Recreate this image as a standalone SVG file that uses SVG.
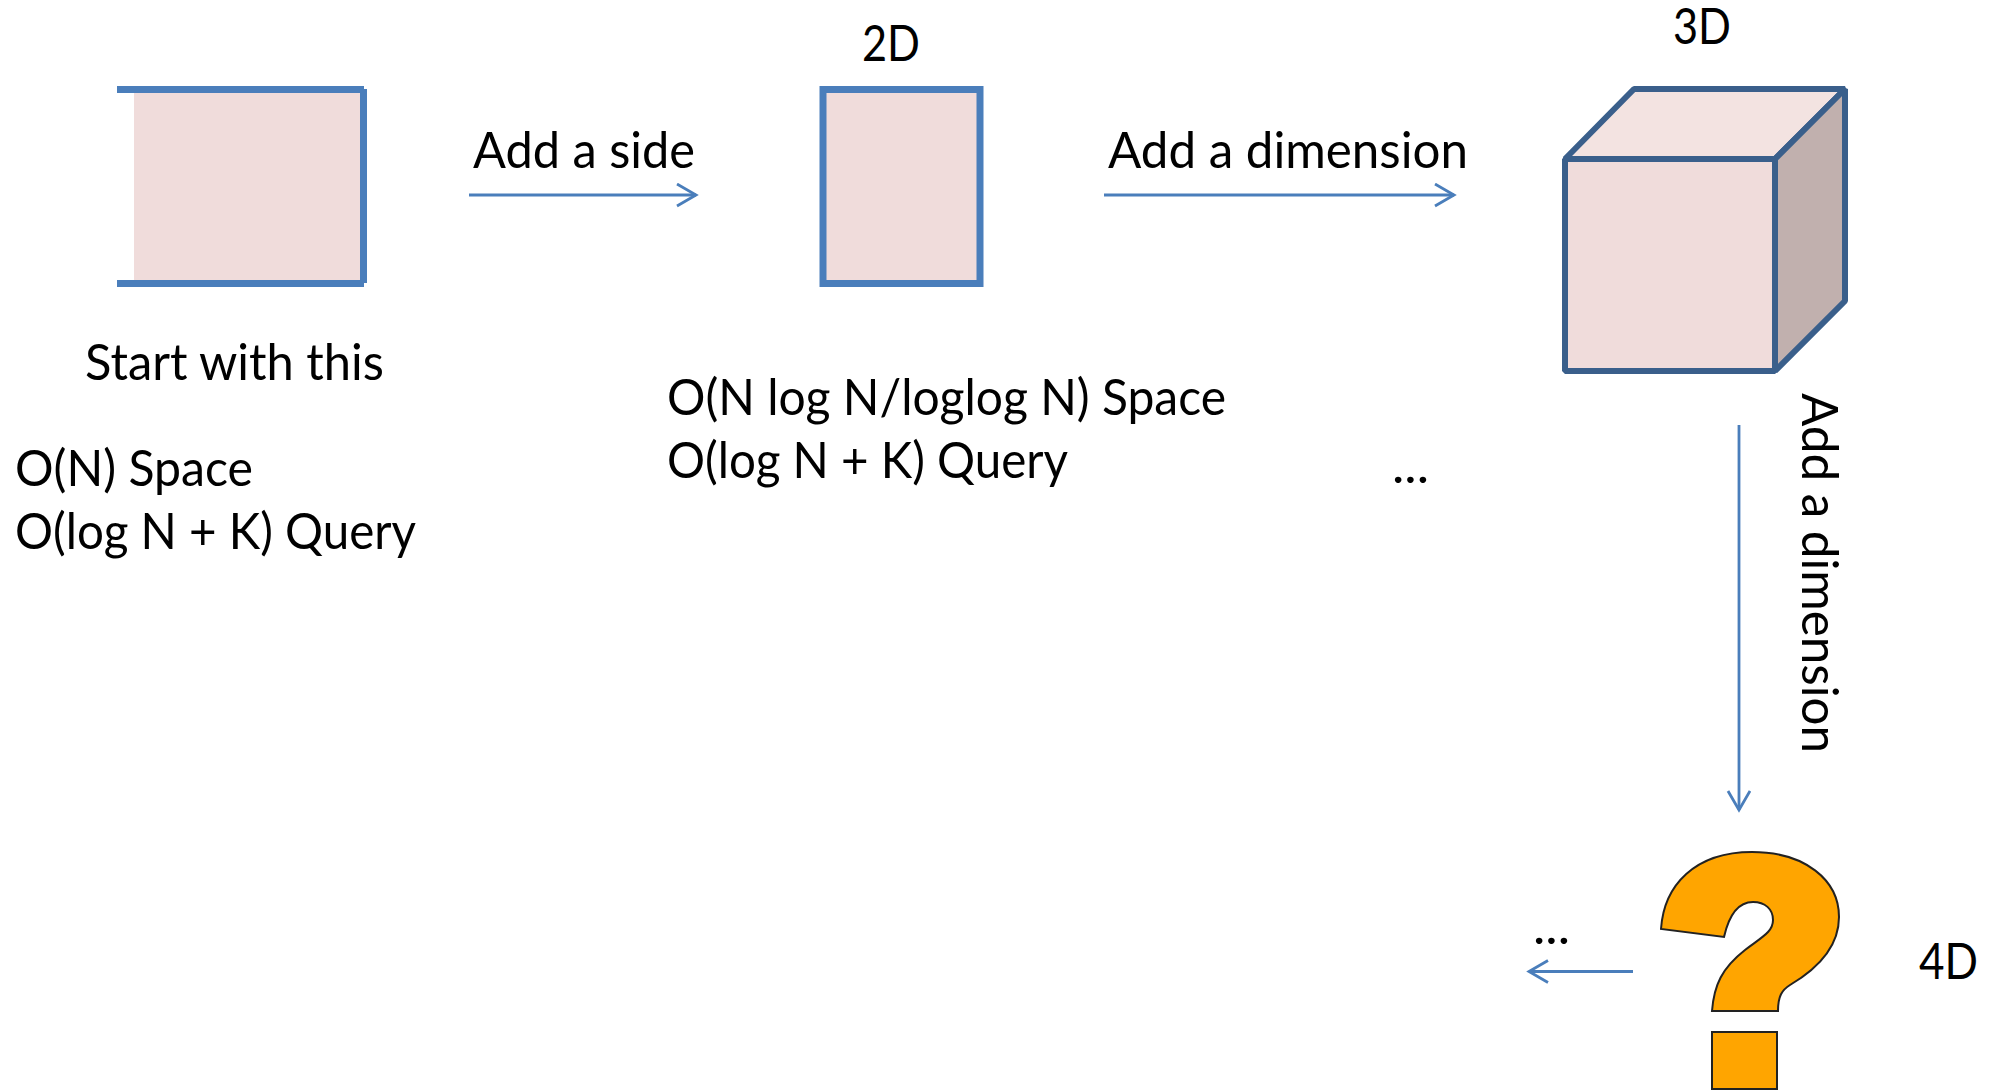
<svg xmlns="http://www.w3.org/2000/svg" width="1997" height="1090" viewBox="0 0 1997 1090">
  <style>
    text { font-family: "Lato", "Liberation Sans", sans-serif; font-size: 50px; fill: #000; }
    .side { stroke: #4a7ebb; stroke-width: 7; fill: none; }
    .face { fill: #f0dcdb; }
    .cube { stroke: #3a5f8b; stroke-width: 6; stroke-linejoin: bevel; }
    .link { stroke: #4a7ebb; stroke-width: 2.8; fill: none; marker-end: url(#open); }
    .mark { fill: #ffa500; stroke: #222; stroke-width: 2; }
  </style>
  <defs>
    <marker id="open" markerUnits="userSpaceOnUse" markerWidth="24" markerHeight="26" refX="20" refY="12" orient="auto">
      <path d="M1 1 L20 12 L1 23" fill="none" stroke="#4a7ebb" stroke-width="2.8"/>
    </marker>
  </defs>

  <rect width="1997" height="1090" fill="#fff"/>

  <g id="start-shape">
    <rect class="face" x="134" y="89" width="230" height="194"/>
    <path class="side" d="M117 89.500H364 M363.500 89V283 M117 283.500H364"/>
    <text x="85" y="380" textLength="299" lengthAdjust="spacingAndGlyphs">Start with this</text>
    <text x="15" y="486" textLength="238" lengthAdjust="spacingAndGlyphs">O(N) Space</text>
    <text x="15" y="549" textLength="401" lengthAdjust="spacingAndGlyphs">O(log N + K) Query</text>
  </g>

  <g id="square-2d">
    <rect class="face" x="823" y="89" width="157" height="194"/>
    <rect class="side" x="823" y="89.500" width="157" height="194"/>
    <text x="862" y="61" textLength="58" lengthAdjust="spacingAndGlyphs">2D</text>
    <text x="667" y="415" textLength="559" lengthAdjust="spacingAndGlyphs">O(N log N/loglog N) Space</text>
    <text x="667" y="478" textLength="401" lengthAdjust="spacingAndGlyphs">O(log N + K) Query</text>
  </g>

  <g id="cube-3d">
    <path class="cube" fill="#f3e3e1" d="M1565 159 L1634 89 H1845 L1775 159 Z"/>
    <path class="cube" fill="#c1b0ae" d="M1775 159 L1845 89 V301 L1775 371 Z"/>
    <rect class="cube face" x="1565" y="159" width="210" height="212"/>
    <text x="1673" y="44" textLength="58" lengthAdjust="spacingAndGlyphs">3D</text>
  </g>

  <g id="question-4d">
    <path class="mark" d="M1661 929 C1664 885 1695 852 1752 852 C1805 852 1839 880 1839 917 C1839 950 1812 972 1790 985 C1782 990 1778 996 1778 1011 H1712 C1714 985 1722 968 1745 950 C1762 937 1773 932 1773 920 C1773 909 1765 902 1753 902 C1738 902 1729 915 1724 937 Z"/>
    <rect class="mark" x="1712" y="1032" width="65" height="57"/>
    <text x="1919" y="979" textLength="59" lengthAdjust="spacingAndGlyphs">4D</text>
  </g>

  <g id="connectors">
    <path class="link" d="M469 195 H696"/>
    <path class="link" d="M1104 195 H1454"/>
    <path class="link" d="M1739 425 V810"/>
    <path class="link" d="M1633 971.500 H1529"/>
  </g>

  <g id="labels">
    <text x="473" y="168" textLength="222" lengthAdjust="spacingAndGlyphs">Add a side</text>
    <text x="1108" y="168" textLength="360" lengthAdjust="spacingAndGlyphs">Add a dimension</text>
    <text transform="translate(1802 393) rotate(90)" textLength="360" lengthAdjust="spacingAndGlyphs">Add a dimension</text>
    <text x="1392" y="483" textLength="37" lengthAdjust="spacingAndGlyphs">...</text>
    <text x="1533" y="944" textLength="37" lengthAdjust="spacingAndGlyphs">...</text>
  </g>
</svg>
